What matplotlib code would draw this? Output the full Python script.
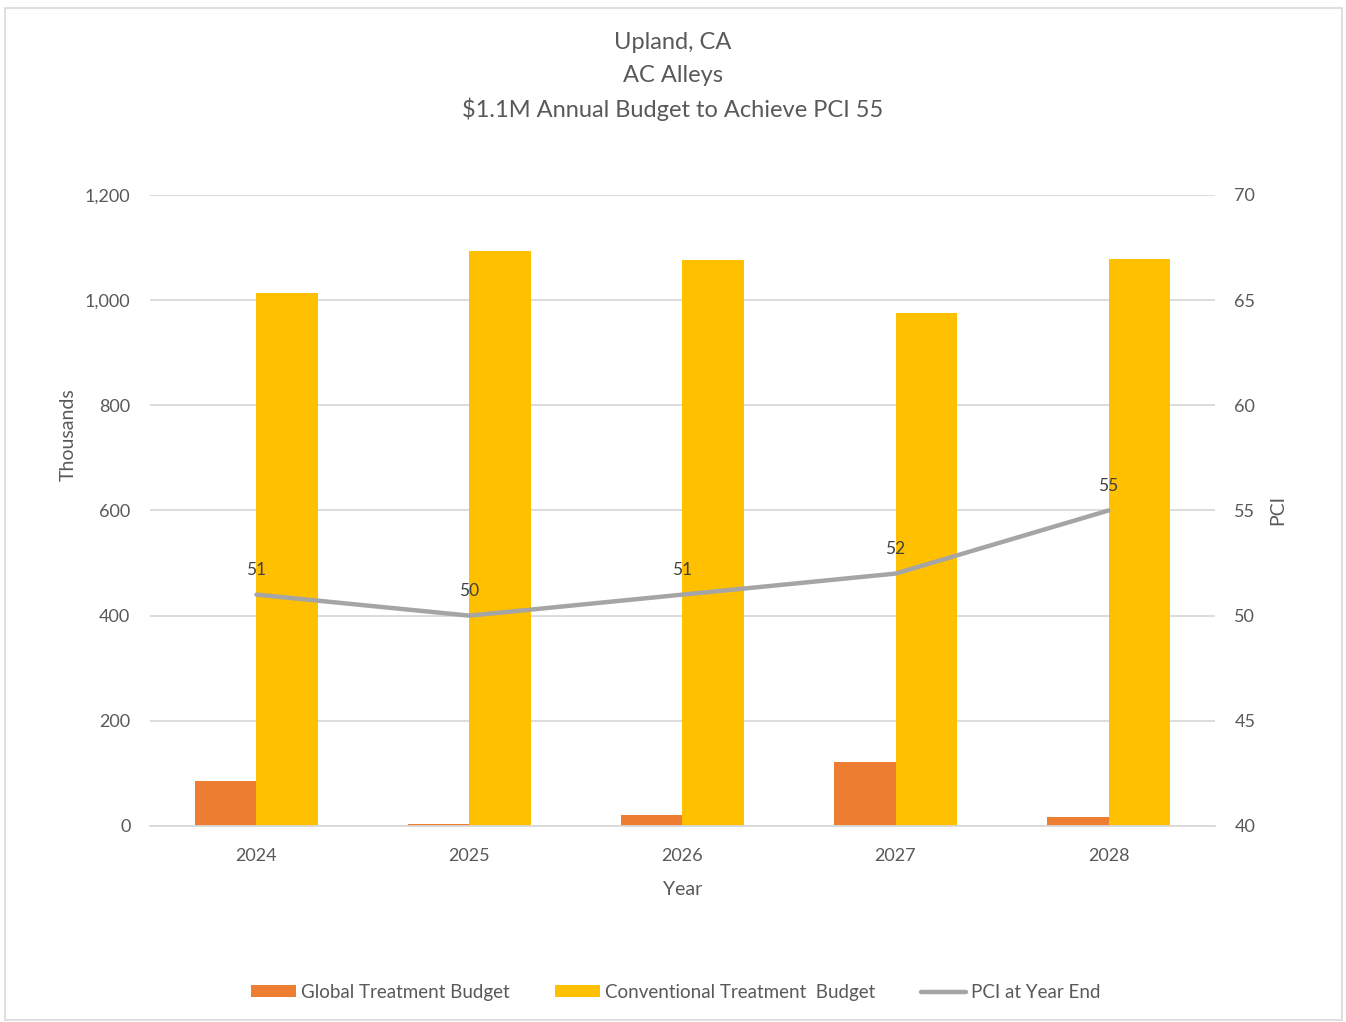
import numpy as np
import matplotlib.pyplot as plt
from matplotlib.patches import Rectangle

plt.rcParams['font.family'] = ['Lato', 'DejaVu Sans']

years = ["2024", "2025", "2026", "2027", "2028"]
global_budget = [86, 4, 20, 121, 18]
conventional_budget = [1013, 1093, 1077, 975, 1079]
pci = [51, 50, 51, 52, 55]

grey_text = "#595959"

fig = plt.figure(figsize=(13.46, 10.22), dpi=100)
ax = fig.add_axes([0.1114, 0.1918, 0.7913, 0.6174])
ax2 = ax.twinx()

x = np.arange(len(years))
w = 0.287
ax.bar(x - w / 2, global_budget, w, color="#ED7D31", label="Global Treatment Budget", zorder=2)
ax.bar(x + w / 2, conventional_budget, w, color="#FFC000", label="Conventional Treatment  Budget", zorder=2)
ln, = ax2.plot(x, pci, color="#A5A5A5", lw=3.2, label="PCI at Year End", solid_capstyle="round", zorder=3)

for xi, v in zip(x, pci):
    ax2.annotate(str(v), (xi, v), xytext=(0, 12), textcoords="offset points",
                 ha="center", va="bottom", fontsize=12.5, color="#404040")

ax.set_xlim(-0.5, 4.5)
ax.set_ylim(0, 1200)
ax.set_yticks(range(0, 1201, 200))
ax.set_yticklabels([f"{v:,}" for v in range(0, 1201, 200)])
ax2.set_ylim(40, 70)
ax2.set_yticks(range(40, 71, 5))
ax.set_xticks(x)
ax.set_xticklabels(years)

ax.grid(axis="y", color="#D9D9D9", lw=1.3, zorder=0)
ax.set_axisbelow(True)
for a in (ax, ax2):
    for s in a.spines.values():
        s.set_visible(False)
    a.tick_params(length=0, labelsize=13, colors=grey_text)
ax.spines["bottom"].set_visible(True)
ax.spines["bottom"].set_color("#D9D9D9")
ax.spines["bottom"].set_linewidth(1.3)
ax.tick_params(axis="x", pad=16)
ax.tick_params(axis="y", pad=14)
ax2.tick_params(axis="y", pad=14)

ax.set_xlabel("Year", fontsize=14, color=grey_text, labelpad=12)
ax.set_ylabel("Thousands", fontsize=14, color=grey_text)
ax2.set_ylabel("PCI", fontsize=14, color=grey_text)
ax.yaxis.set_label_coords(-0.069, 0.62)
ax2.yaxis.set_label_coords(1.051, 0.5)

fig.text(0.5, 0.958, "Upland, CA", ha="center", va="center", fontsize=17, color=grey_text)
fig.text(0.5, 0.926, "AC Alleys", ha="center", va="center", fontsize=17, color=grey_text)
fig.text(0.5, 0.893, "$1.1M Annual Budget to Achieve PCI 55", ha="center", va="center", fontsize=17, color=grey_text)

h1, l1 = ax.get_legend_handles_labels()
fig.legend(h1 + [ln], l1 + ["PCI at Year End"], loc="center", bbox_to_anchor=(0.502, 0.029),
           ncol=3, frameon=False, fontsize=13.5, labelcolor=grey_text,
           handlelength=2.4, handleheight=0.6, columnspacing=2.4, handletextpad=0.3)

fig.patches.append(Rectangle((0.004, 0.002), 0.993, 0.99, transform=fig.transFigure,
                             fill=False, edgecolor="#D9D9D9", lw=1.2))

fig.savefig("out.png", dpi=100)
